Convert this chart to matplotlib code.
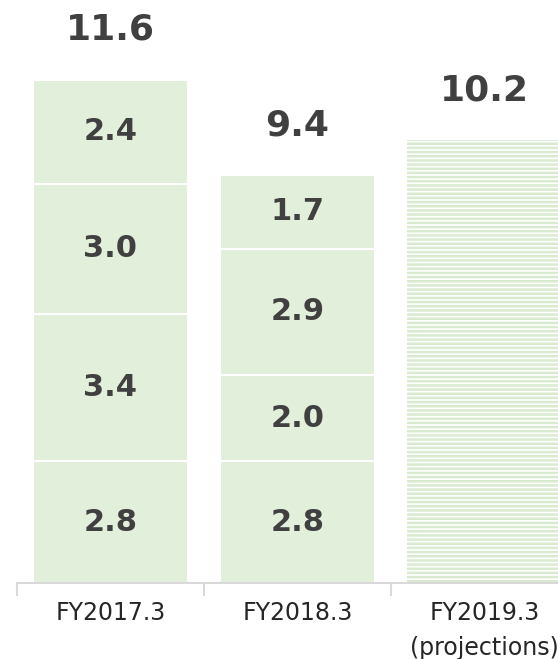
import matplotlib
matplotlib.use("Agg")
import matplotlib.pyplot as plt
import numpy as np

categories = ["FY2017.3", "FY2018.3", "FY2019.3\n(projections)"]
# stacked segments, bottom to top
seg1 = [2.8, 2.8]
seg2 = [3.4, 2.0]
seg3 = [3.0, 2.9]
seg4 = [2.4, 1.7]
totals = [11.6, 9.4, 10.2]

fill = "#E2EFDA"
hatch_col = "#DAEACF"
text_col = "#404040"

plt.rcParams["hatch.linewidth"] = 1.8

fig = plt.figure(figsize=(5.58, 6.59), dpi=100)
ax = fig.add_axes([17/558, 76/659, 561/558, 583/659])

x = np.arange(len(categories))
w = 0.83
segs = [seg1, seg2, seg3, seg4]
bottom = np.zeros(2)
for s in segs:
    s = np.array(s)
    ax.bar(x[:2], s, width=w, bottom=bottom, color=fill, edgecolor="white", linewidth=1.5)
    for xi, b, v in zip(x[:2], bottom, s):
        ax.text(xi, b + v/2, f"{v:.1f}", ha="center", va="center",
                fontsize=22, fontweight="bold", color=text_col)
    bottom = bottom + s

ax.bar(x[2], totals[2], width=w, color="white", edgecolor=hatch_col, hatch="----", linewidth=0)

for xi, t in zip(x, totals):
    ax.annotate(f"{t:.1f}", (xi, t), xytext=(0, 36), textcoords="offset points",
                ha="center", va="center", fontsize=26, fontweight="bold", color=text_col)

ax.set_xlim(-0.5, 2.5)
ax.set_ylim(0, 583/43.4)
for sp in ["top", "right", "left"]:
    ax.spines[sp].set_visible(False)
ax.spines["bottom"].set_color("#D9D9D9")
ax.spines["bottom"].set_linewidth(1.5)
ax.set_yticks([])
ax.set_xticks(x)
ax.set_xticklabels(categories, fontsize=17, color="#262626", linespacing=1.55)
ax.tick_params(axis="x", which="major", length=0, pad=13)
ax.set_xticks([-0.5, 0.5, 1.5, 2.5], minor=True)
ax.tick_params(axis="x", which="minor", length=9, color="#D9D9D9", width=1.5)
for lbl in ax.get_xticklabels():
    lbl.set_va("top")

fig.savefig("out.png", dpi=100)
